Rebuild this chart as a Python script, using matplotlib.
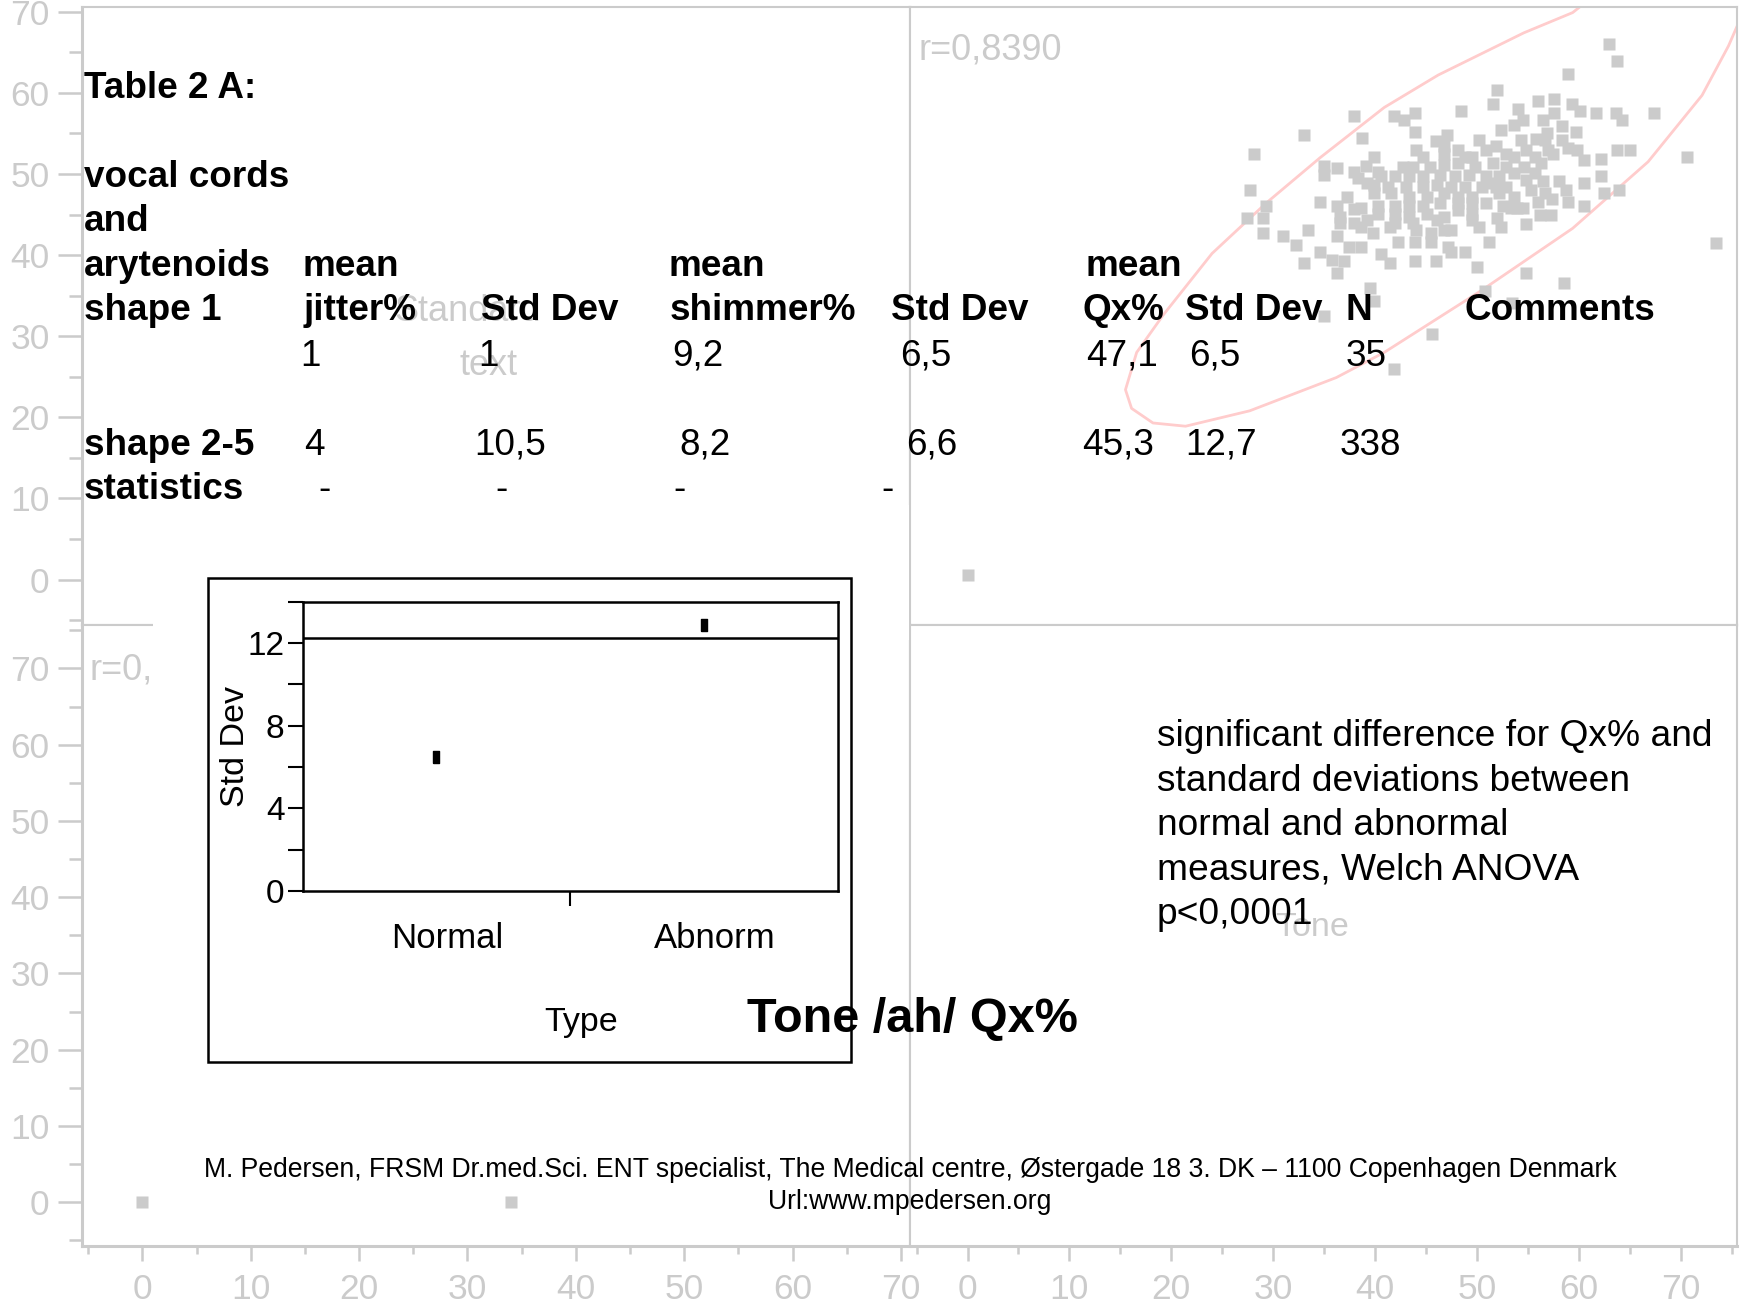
import matplotlib
matplotlib.use("Agg")
import matplotlib.pyplot as plt
from matplotlib.patches import Rectangle
from matplotlib.ticker import MultipleLocator, FixedLocator
from matplotlib.transforms import ScaledTranslation

plt.rcParams['font.family'] = ['Liberation Sans', 'DejaVu Sans']

W, H = 1744, 1310
GREY = '#cbcbcb'

# ---- faded scatterplot matrix behind the table (top-right cell) ----
qx_x = [63.8, 58.9, 52.0, 51.6, 54.0, 56.0, 57.6, 59.3, 60.1, 61.7,
        63.7, 64.2, 67.4, 57.6, 56.5, 54.5, 53.6, 48.4, 43.9, 41.9,
        42.8, 37.9, 33.0, 38.7, 43.9, 46.0, 47.1, 50.2, 52.4, 54.3,
        55.8, 56.9, 58.4, 59.7, 58.4, 58.9, 57.5, 56.7, 63.8, 65.0,
        62.2, 70.6, 28.1, 27.7, 29.3, 27.4, 29.0, 29.0, 31.0, 32.2,
        33.4, 34.6, 33.0, 35.8, 37.0, 36.3, 35.0, 35.0, 36.3, 39.1,
        39.9, 37.9, 38.3, 40.3, 34.6, 36.3, 37.9, 36.6, 36.6, 37.9,
        38.6, 36.3, 37.4, 38.6, 39.8, 40.6, 41.5, 41.5, 42.3, 43.9,
        43.9, 45.5, 45.5, 46.0, 47.5, 47.2, 47.5, 48.8, 50.0, 51.2,
        52.0, 52.4, 54.8, 54.8, 53.3, 54.5, 56.0, 57.4, 58.9, 56.2,
        57.3, 58.5, 62.5, 73.5, 45.6, 41.9, 39.5, 39.9, 35.0, 50.8,
        53.4, 63.0, 0.0,
        44.7, 46.8, 48.1, 49.5, 50.9, 51.9, 52.9, 54.8, 55.7, 56.3,
        43.7, 45.4, 46.8, 48.1, 49.8, 51.6, 52.9, 54.6, 55.7, 42.0,
        43.3, 44.7, 46.4, 47.8, 49.2, 50.9, 52.2, 53.6, 54.8, 56.5,
        58.1, 39.9, 41.3, 43.0, 44.7, 46.1, 47.5, 48.8, 50.5, 51.9,
        53.6, 39.9, 41.6, 43.3, 45.1, 46.8, 48.1, 49.5, 50.9, 52.2,
        40.3, 42.0, 43.3, 44.7, 46.4, 48.1, 49.5, 42.0, 43.3, 45.1,
        46.8, 48.1, 49.5, 40.3, 43.7, 46.1, 49.5, 52.6, 53.9, 38.6,
        44.0, 48.8, 53.6, 57.0, 60.5, 59.8, 46.8, 42.7, 40.6, 39.2,
        51.6, 52.9, 55.3, 56.7, 58.7, 60.5, 62.2, 44.0, 46.8, 50.2,
        42.0, 39.2, 37.2, 60.5, 63.9]
qx_y = [63.9, 62.3, 60.4, 58.6, 58.0, 59.0, 59.3, 58.6, 57.8, 57.5,
        57.5, 56.7, 57.5, 57.5, 56.7, 56.7, 56.0, 57.8, 57.5, 57.1,
        56.7, 57.1, 54.8, 54.4, 55.2, 54.1, 54.8, 54.2, 55.4, 54.2,
        54.3, 55.0, 55.9, 55.2, 54.2, 53.2, 52.5, 54.2, 53.0, 53.0,
        51.8, 52.1, 52.5, 48.0, 46.1, 44.6, 44.6, 42.7, 42.3, 41.2,
        43.1, 40.4, 39.0, 39.4, 39.3, 37.8, 51.0, 49.9, 50.7, 51.0,
        52.1, 50.2, 49.5, 50.3, 46.5, 46.1, 45.7, 44.7, 43.9, 43.9,
        43.5, 42.3, 41.0, 41.0, 42.7, 40.1, 39.0, 43.5, 41.6, 41.6,
        39.3, 42.7, 41.6, 39.3, 43.1, 41.0, 40.4, 40.4, 38.5, 41.6,
        44.6, 43.5, 43.8, 37.8, 45.8, 45.8, 46.6, 46.9, 46.5, 44.9,
        44.9, 36.6, 47.6, 41.5, 30.3, 26.0, 35.9, 34.3, 32.5, 35.6,
        34.1, 66.0, 0.5,
        52.1, 52.5, 53.0, 52.1, 53.0, 53.4, 52.5, 53.0, 52.1, 51.3,
        50.9, 50.9, 51.1, 51.3, 50.9, 51.3, 50.9, 50.9, 50.1, 49.7,
        49.7, 49.7, 49.9, 49.7, 49.9, 49.7, 49.7, 50.1, 49.3, 49.1,
        49.1, 48.6, 48.4, 48.4, 48.4, 48.6, 48.4, 48.4, 48.4, 48.4,
        47.2, 47.6, 47.6, 47.2, 47.2, 47.6, 47.2, 47.2, 46.4, 47.6,
        46.0, 46.0, 46.0, 46.0, 46.4, 46.4, 46.4, 45.1, 44.7, 45.1,
        44.7, 45.6, 45.1, 45.1, 43.9, 44.3, 44.3, 46.0, 45.8, 45.8,
        53.0, 52.1, 52.1, 53.0, 51.7, 53.0, 53.4, 50.9, 49.7, 48.9,
        48.9, 48.4, 48.0, 47.6, 48.0, 48.9, 49.7, 43.1, 43.1, 43.5,
        43.9, 44.3, 47.2, 46.0, 48.0]
# density ellipse outline (r=0,8390 cell)
ell_x = [61.0, 59.4, 54.6, 46.2, 40.9, 34.6, 29.3, 24.0, 19.2, 16.6, 15.5, 16.1,
         18.2, 21.4, 27.7, 36.2, 40.9, 50.4, 59.4, 66.8, 72.1, 74.7, 76.5]
ell_y = [71.5, 69.9, 67.4, 62.2, 58.2, 52.0, 46.4, 40.2, 32.6, 28.0, 23.4, 21.1,
         19.3, 18.9, 20.8, 24.9, 28.0, 35.6, 43.3, 51.5, 59.7, 65.8, 71.0]
# bottom-left cell stray points
bl_x = [0, 34]
bl_y = [0, 0]

# ---- Table 2 A ----
jitter = [1, 4]
jitter_sd = [1, 10.5]
shimmer = [9.2, 8.2]
shimmer_sd = [6.5, 6.6]
qx_mean = [47.1, 45.3]
qx_sd = [6.5, 12.7]
n_obs = [35, 338]

# ---- inset: Std Dev by Type ----
types = ['Normal', 'Abnorm']
type_sd = [6.5, 12.85]
sd_ref = 12.25


def fmt(v):
    return f"{v:g}".replace('.', ',')


def fbox(x0, y0, x1, y1):
    return [x0 / W, 1 - y1 / H, (x1 - x0) / W, (y1 - y0) / H]


fig = plt.figure(figsize=(W / 100, H / 100), dpi=100)


def ftext(x, y, s, **kw):
    kw.setdefault('va', 'baseline')
    return fig.text(x / W, 1 - y / H, s, **kw)


XL, XM, XR = 82.3, 909.8, 1737.3
YT, YM, YB = 6.5, 625.0, 1245.7
xl_lim, xr_lim = (-5.55, 70.82), (-5.67, 75.56)
yt_lim, yb_lim = (-5.61, 70.65), (-5.69, 75.69)


def cell(box, xlim, ylim, left=False, bottom=False):
    ax = fig.add_axes(fbox(*box))
    ax.set_xlim(xlim); ax.set_ylim(ylim)
    for sp in ax.spines.values():
        sp.set_color(GREY); sp.set_linewidth(1.5)
    if left: ax.spines['left'].set_linewidth(2.2)
    if bottom: ax.spines['bottom'].set_linewidth(2.2)
    for a in (ax.xaxis, ax.yaxis):
        a.set_major_locator(MultipleLocator(10))
        a.set_minor_locator(MultipleLocator(5))
    ax.tick_params(which='both', colors=GREY, labelsize=25.5, width=1.8)
    ax.tick_params(axis='y', which='major', length=17.5, pad=6, left=left, labelleft=left)
    ax.tick_params(axis='y', which='minor', length=9.5, left=left)
    ax.tick_params(axis='x', which='major', length=11, pad=9, bottom=bottom, labelbottom=bottom)
    ax.tick_params(axis='x', which='minor', length=6, bottom=bottom)
    return ax


ax_tl = cell((XL, YT, XM, YM), xl_lim, yt_lim, left=True)
ax_tr = cell((XM, YT, XR, YM), xr_lim, yt_lim)
ax_bl = cell((XL, YM, XM, YB), xl_lim, yb_lim, left=True, bottom=True)
ax_br = cell((XM, YM, XR, YB), xr_lim, yb_lim, bottom=True)

ax_tr.plot(ell_x, ell_y, color='#ffcccc', lw=2)
ax_tr.plot(qx_x, qx_y, ls='none', marker='s', ms=8.5, color=GREY, mec='none')
ax_bl.plot(bl_x, bl_y, ls='none', marker='s', ms=8.5, color=GREY, mec='none')

# white area hiding part of the matrix divider
fig.add_artist(Rectangle((153 / W, 1 - 640 / H), (909 - 153) / W, (640 - 505) / H,
                         transform=fig.transFigure, fc='white', ec='none', zorder=1))

# faded cell labels of the matrix
ftext(918, 60, 'r=0,8390', size=26, color=GREY, zorder=2)
ftext(89, 680, 'r=0,', size=26, color=GREY, zorder=2)
ftext(394, 321, 'Standard', size=26, color=GREY, zorder=2)
ftext(459, 374.5, 'text', size=26, color=GREY, zorder=2)
ftext(1275, 936, 'Tone', size=24.5, color=GREY, zorder=2)

# ---- table text ----
TS = 26.6
for y, s in [(97.9, 'Table 2 A:'), (186.9, 'vocal cords'), (231.3, 'and'),
             (275.8, 'arytenoids'), (320.3, 'shape 1'), (454.9, 'shape 2-5'),
             (499.4, 'statistics')]:
    ftext(84, y, s, size=TS, weight='bold')
for x, s in [(302.5, 'mean'), (668.4, 'mean'), (1086, 'mean')]:
    ftext(x, 275.8, s, size=TS, weight='bold')
for x, s in [(304, 'jitter%'), (480.5, 'Std Dev'), (670, 'shimmer%'), (891, 'Std Dev'),
             (1082, 'Qx%'), (1185, 'Std Dev'), (1345.6, 'N'), (1465, 'Comments')]:
    ftext(x, 320.3, s, size=TS, weight='bold')

cols = [jitter, jitter_sd, shimmer, shimmer_sd, qx_mean, qx_sd, n_obs]
row_x = [[300, 478, 672.7, 900, 1085.7, 1189.6, 1345.6],
         [304, 474.5, 679, 906, 1082, 1185.3, 1340]]
for r, y in enumerate([365.9, 454.9]):
    for c, vals in enumerate(cols):
        ftext(row_x[r][c], y, fmt(vals[r]), size=TS)
for x in [318, 495.6, 673, 881.7]:
    ftext(x, 499.4, '-', size=TS)

# ---- inset box ----
fig.add_artist(Rectangle((208 / W, 1 - 1062 / H), (851 - 208) / W, (1062 - 578.3) / H,
                         transform=fig.transFigure, fc='white', ec='black', lw=1.8, zorder=4))
ax_in = fig.add_axes(fbox(302.5, 601.7, 837.5, 891), zorder=5)
ax_in.set_xlim(-0.5, 1.5); ax_in.set_ylim(0, 14)
for sp in ax_in.spines.values():
    sp.set_linewidth(1.8)
ax_in.yaxis.set_major_locator(FixedLocator([0, 4, 8, 12]))
ax_in.yaxis.set_minor_locator(FixedLocator([2, 6, 10, 14]))
ax_in.set_xticks(range(len(types)), types)
ax_in.xaxis.set_minor_locator(FixedLocator([0.5]))
ax_in.tick_params(axis='y', which='both', length=11, width=1.5, labelsize=24, pad=2)
ax_in.tick_params(axis='x', which='major', length=0, labelsize=25, pad=22)
ax_in.tick_params(axis='x', which='minor', length=11, width=1.5)
shift = ScaledTranslation(0.11, 0, fig.dpi_scale_trans)
for lab in ax_in.get_xticklabels():
    lab.set_transform(lab.get_transform() + shift)
ax_in.axhline(sd_ref, color='black', lw=1.8)
rect = [(-0.3, -0.5), (0.3, -0.5), (0.3, 0.5), (-0.3, 0.5), (-0.3, -0.5)]
ax_in.plot(range(len(types)), type_sd, ls='none', marker=rect, ms=8, color='black')
ax_in.set_ylabel('Std Dev', size=24.5)
ax_in.yaxis.set_label_coords(-0.097, 0.5)
ax_in.set_xlabel('Type', size=24.5)
ax_in.xaxis.set_label_coords(0.52, -0.40)

ftext(747.4, 1032, 'Tone /ah/ Qx%', size=35, weight='bold', zorder=10)

# ---- comment ----
for y, s in zip([746.3, 790.8, 835.3, 879.8, 924.2],
                ['significant difference for Qx% and', 'standard deviations between',
                 'normal and abnormal', 'measures, Welch ANOVA', 'p<0,0001']):
    ftext(1156.7, y, s, size=26.7, zorder=10)

# ---- footer ----
ftext(910, 1177, 'M. Pedersen, FRSM Dr.med.Sci. ENT specialist, The Medical centre, '
      'Østergade 18 3. DK – 1100 Copenhagen Denmark', size=19.2, ha='center')
ftext(910, 1209, 'Url:www.mpedersen.org', size=19.2, ha='center')

fig.savefig('out.png', dpi=100)
